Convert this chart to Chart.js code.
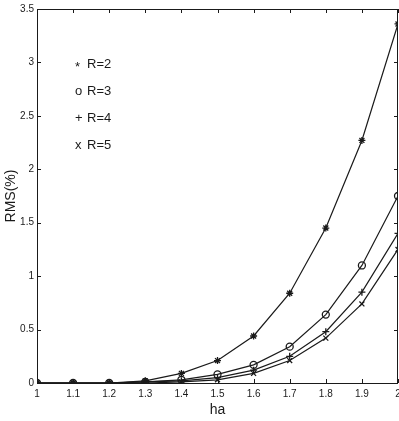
<!DOCTYPE html>
<html>
<head>
<meta charset="utf-8">
<script src="https://cdn.jsdelivr.net/npm/chart.js@4/dist/chart.umd.min.js"></script>
<style>
  html, body { margin: 0; padding: 0; background: #fff; }
  #wrap { width: 399px; height: 421px; position: relative; }
</style>
</head>
<body>
<div id="wrap"><canvas id="rms"></canvas></div>
<script>
// RMS(%) against ha, one curve per R

const haValues  = [1, 1.1, 1.2, 1.3, 1.4, 1.5, 1.6, 1.7, 1.8, 1.9, 2];
const rmsR2     = [0, 0, 0, 0.02, 0.09, 0.21, 0.44, 0.84, 1.45, 2.27, 3.36];
const rmsR3     = [0, 0, 0, 0.01, 0.03, 0.08, 0.17, 0.34, 0.64, 1.10, 1.75];
const rmsR4     = [0, 0, 0, 0.01, 0.02, 0.05, 0.12, 0.25, 0.48, 0.85, 1.40];
const rmsR5     = [0, 0, 0, 0, 0.01, 0.03, 0.09, 0.21, 0.42, 0.74, 1.25];
const seriesNames  = ['R=2', 'R=3', 'R=4', 'R=5'];
const seriesMarks  = ['*', 'o', '+', 'x'];
const xTickLabels  = ['1', '1.1', '1.2', '1.3', '1.4', '1.5', '1.6', '1.7', '1.8', '1.9', '2'];
const yTickLabels  = ['0', '0.5', '1', '1.5', '2', '2.5', '3', '3.5'];

const INK = '#1a1a1a';
const FONT = '"Liberation Sans", Arial, sans-serif';

// box round the plot, with short ticks pointing inwards on all four sides
const boxTicks = {
    id: 'boxTicks',
    afterDraw(chart) {
        const { ctx, chartArea: a, scales } = chart;
        const len = 4;
        ctx.save();
        ctx.strokeStyle = INK;
        ctx.lineWidth = 1;
        ctx.beginPath();
        ctx.rect(a.left + 0.5, a.top + 0.5, a.right - a.left - 1, a.bottom - a.top);
        scales.x.ticks.forEach((t, i) => {
            const px = Math.round(scales.x.getPixelForTick(i)) + 0.5;
            ctx.moveTo(px, a.bottom); ctx.lineTo(px, a.bottom - len);
            ctx.moveTo(px, a.top);    ctx.lineTo(px, a.top + len);
        });
        scales.y.ticks.forEach((t, i) => {
            const py = Math.round(scales.y.getPixelForTick(i)) + 0.5;
            ctx.moveTo(a.left, py);  ctx.lineTo(a.left + len, py);
            ctx.moveTo(a.right, py); ctx.lineTo(a.right - len, py);
        });
        ctx.stroke();

        // legend written inside the plot, as in the figure
        ctx.fillStyle = INK;
        ctx.font = '13px ' + FONT;
        ctx.textBaseline = 'middle';
        seriesNames.forEach((name, i) => {
            const y = a.top + 55 + i * 27;
            ctx.fillText(seriesMarks[i], a.left + 38, y + (seriesMarks[i] === '*' ? 3 : 0));
            ctx.fillText(name, a.left + 50, y);
        });
        ctx.restore();
    }
};

function lineSet(label, data, style) {
    return {
        label,
        data: haValues.map((x, i) => ({ x, y: data[i] })),
        borderColor: INK,
        backgroundColor: 'rgba(0,0,0,0)',
        pointBorderColor: INK,
        pointStyle: style,
        pointRadius: 3.5,
        pointBorderWidth: 1.3,
        borderWidth: 1.2,
        tension: 0,
    };
}

new Chart(document.getElementById('rms'), {
    type: 'line',
    data: {
        datasets: [
            lineSet(seriesNames[0], rmsR2, 'star'),
            lineSet(seriesNames[1], rmsR3, 'circle'),
            lineSet(seriesNames[2], rmsR4, 'cross'),
            lineSet(seriesNames[3], rmsR5, 'crossRot'),
        ]
    },
    options: {
        responsive: true,
        maintainAspectRatio: false,
        animation: false,
        layout: { autoPadding: false, padding: { top: 9, right: 1, left: 0, bottom: 0 } },
        plugins: {
            legend: { display: false },
            tooltip: { enabled: false },
        },
        scales: {
            x: {
                type: 'linear',
                min: 1, max: 2,
                afterBuildTicks: s => { s.ticks = haValues.map(v => ({ value: v })); },
                afterFit: s => { s.height = 38; s.paddingLeft = 0; s.paddingRight = 0; },
                grid: { display: false, drawTicks: false },
                border: { display: false },
                ticks: {
                    color: INK, padding: 5, maxRotation: 0, autoSkip: false,
                    font: { family: FONT, size: 10 },
                    callback: (v, i) => xTickLabels[i],
                },
                title: {
                    display: true, text: 'ha', color: INK,
                    font: { family: FONT, size: 14 },
                    padding: { top: 0, bottom: 2 },
                },
            },
            y: {
                type: 'linear',
                min: 0, max: 3.5,
                afterBuildTicks: s => { s.ticks = yTickLabels.map(v => ({ value: parseFloat(v) })); },
                afterFit: s => { s.width = 37; s.paddingTop = 0; s.paddingBottom = 0; },
                grid: { display: false, drawTicks: false },
                border: { display: false },
                ticks: {
                    color: INK, padding: 3, autoSkip: false,
                    font: { family: FONT, size: 10 },
                    callback: (v, i) => yTickLabels[i],
                },
                title: {
                    display: true, text: 'RMS(%)', color: INK,
                    font: { family: FONT, size: 14 },
                    padding: { top: 3, bottom: 0 },
                },
            },
        },
    },
    plugins: [boxTicks],
});
</script>
</body>
</html>
